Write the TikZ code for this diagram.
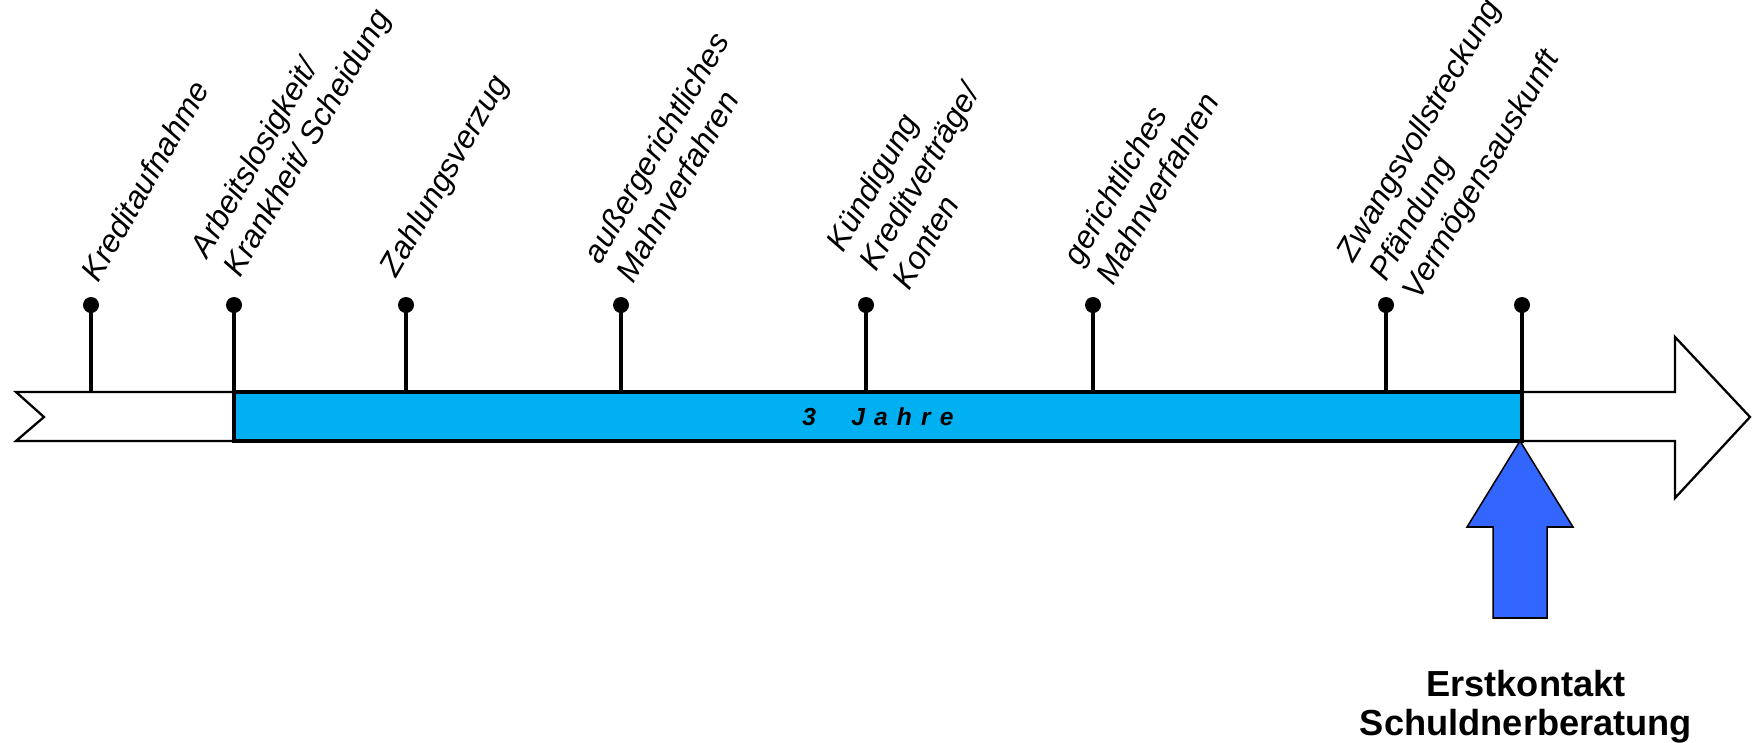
\documentclass[tikz,border=0pt]{standalone}
\usepackage{fontspec}
\setmainfont{Liberation Sans}
\definecolor{jahrblau}{HTML}{00B0F0}
\definecolor{pfeilblau}{HTML}{3366FF}
\begin{document}
\begin{tikzpicture}[x=0.01cm,y=-0.01cm,
		knob/.style={circle, fill=black, inner sep=0pt, minimum width=0.14cm, minimum height=0.16cm},
		ereignis/.style={rotate=60, anchor=south west, align=left, inner sep=0pt, text depth=0pt, font=\fontsize{9}{10.8}\selectfont\itshape},
		stiel/.style={line width=.012in}]
	\useasboundingbox (0,0) rectangle (1754,742);
			\draw[line width=.009in, fill=white] (16,392) -- (1675,392) -- (1675,337) -- (1750,417) -- (1675,498) -- (1675,441) -- (16,441) -- (44,417) -- cycle;
			\draw[line width=.016in, fill=jahrblau] (234,392) rectangle (1522,441);
			\node[font=\fontsize{7}{8}\selectfont\bfseries\itshape] (J) at (878,417) {3\hspace{10pt}J\hspace{2.6pt}a\hspace{2.6pt}h\hspace{2.6pt}r\hspace{2.6pt}e};
		
			\node[knob] (K1) at (91,305) {};
			\node[knob] (K2) at (234,305) {};
			\node[knob] (K3) at (406,305) {};
			\node[knob] (K4) at (621,305) {};
			\node[knob] (K5) at (866,305) {};
			\node[knob] (K6) at (1093,305) {};
			\node[knob] (K7) at (1386,305) {};
			\node[knob] (K8) at (1522,305) {};
				\coordinate (B1) at (91,392);
				\coordinate (B2) at (234,392);
				\coordinate (B3) at (406,392);
				\coordinate (B4) at (621,392);
				\coordinate (B5) at (866,392);
				\coordinate (B6) at (1093,392);
				\coordinate (B7) at (1386,392);
				\coordinate (B8) at (1522,392);
			\draw[stiel] (K1.center) -- (B1);
			\draw[stiel] (K2.center) -- (B2);
			\draw[stiel] (K3.center) -- (B3);
			\draw[stiel] (K4.center) -- (B4);
			\draw[stiel] (K5.center) -- (B5);
			\draw[stiel] (K6.center) -- (B6);
			\draw[stiel] (K7.center) -- (B7);
			\draw[stiel] (K8.center) -- (B8);
		
			\node[ereignis] (L1) at (99,284) {Kreditaufnahme};
			\node[ereignis] (L2) at (241,279) {Arbeitslosigkeit/\\Krankheit/ Scheidung};
			\node[ereignis] (L3) at (397,279) {Zahlungsverzug};
			\node[ereignis] (L4) at (634,285) {außergerichtliches\\Mahnverfahren};
			\node[ereignis] (L5) at (910,292) {Kündigung\\Kreditverträge/\\Konten};
			\node[ereignis] (L6) at (1114,287) {gerichtliches\\Mahnverfahren};
			\node[ereignis] (L7) at (1420,302) {Zwangsvollstreckung\\Pfändung\\Vermögensauskunft};
		
			\draw[line width=.006in, fill=pfeilblau] (1520,441) -- (1573,527) -- (1547,527) -- (1547,618) -- (1493,618) -- (1493,527) -- (1467,527) -- cycle;
			\node[font=\fontsize{10.3}{11.2}\selectfont\bfseries, align=center] (E) at (1526,707) {Erstkontakt\\Schuldnerberatung};
\end{tikzpicture}
\end{document}
